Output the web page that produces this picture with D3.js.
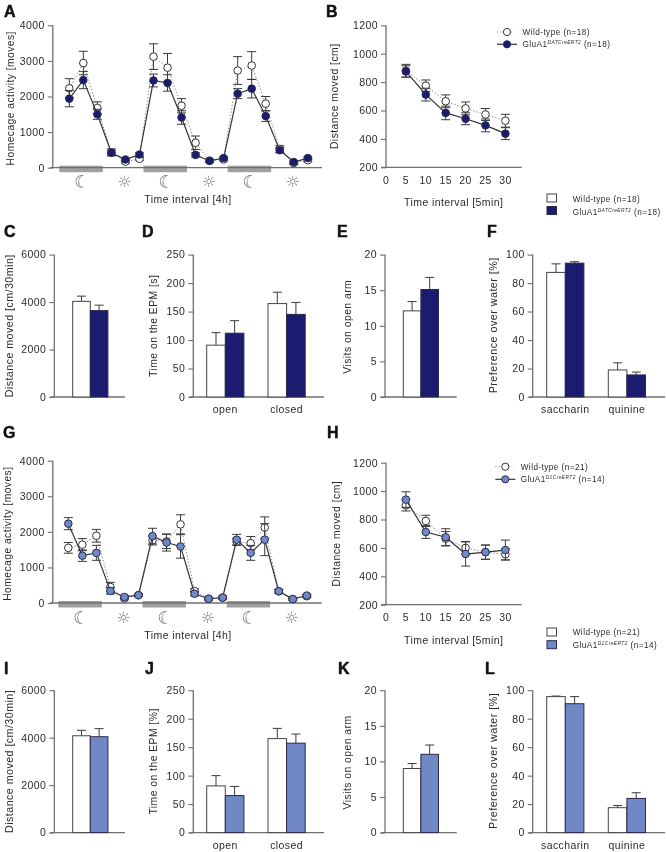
<!DOCTYPE html>
<html><head><meta charset="utf-8">
<script src="https://cdn.jsdelivr.net/npm/d3@7/dist/d3.min.js"></script>
<style>
html,body{margin:0;padding:0;background:#fff}
svg{display:block;filter:blur(0.35px)}
text{font-family:"Liberation Sans",Arial,sans-serif;fill:#2b2b2b}
</style></head><body><svg id="c" width="666" height="852"></svg>
<script>
// ---- Data ----
const intervals = d3.range(18);
const aWT  = [2230,2940,1680,430,170,250,3120,2810,1740,700,200,230,2730,2870,1800,530,130,210];
const aWTe = [270,330,170,100,40,40,360,400,200,190,40,40,390,390,200,90,40,40];
const aKO  = [1940,2460,1500,420,230,370,2450,2380,1410,360,190,270,2080,2220,1450,490,160,270];
const aKOe = [230,240,140,70,40,50,180,230,190,60,40,40,140,260,150,70,40,40];
const gWT  = [1550,1640,1890,450,130,220,1760,1730,2210,340,120,150,1720,1680,2120,330,110,190];
const gWTe = [150,170,180,130,40,40,130,200,270,60,40,40,100,190,300,50,30,40];
const gKO  = [2230,1330,1410,340,170,220,1880,1700,1590,260,120,150,1780,1410,1780,330,110,210];
const gKOe = [170,160,210,90,40,30,220,240,330,60,30,40,150,210,450,50,30,30];
const minutes = [5,10,15,20,25,30];
const minuteTicks = [0,5,10,15,20,25,30];
const bWT  = [880,775,665,615,572,528];
const bWTe = [45,40,45,45,42,45];
const bKO  = [875,712,583,542,495,437];
const bKOe = [40,45,48,42,45,42];
const hWT  = [900,790,665,600,570,555];
const hWTe = [40,40,50,45,50,40];
const hKO  = [940,712,675,557,570,585];
const hKOe = [55,45,60,85,50,70];
const cVals = [[4030],[3640]], cErrs = [[220],[230]];
const dVals = [[91,164],[112,145]], dErrs = [[22,20],[22,21]];
const eVals = [[12.1],[15.1]], eErrs = [[1.3],[1.7]];
const fVals = [[87.5,19],[94,15.5]], fErrs = [[6,5],[1,2]];
const iVals = [[4080],[4040]], iErrs = [[230],[340]];
const jVals = [[82,165],[65,157]], jErrs = [[18,18],[16,16]];
const kVals = [[9],[11]], kErrs = [[0.7],[1.3]];
const lVals = [[95.5,17.5],[90.5,24]], lErrs = [[0.4,1.5],[5,4]];
const epmGroups = ["open","closed"];
const tasteGroups = ["saccharin","quinine"];
const ticksActivity = [0,1000,2000,3000,4000];
const ticksDistance = [200,400,600,800,1000,1200];
const ticksOpenField = [0,2000,4000,6000];
const ticksEPM = [0,50,100,150,200,250];
const ticksVisits = [0,5,10,15,20];
const ticksPref = [0,20,40,60,80,100];
const wtLegendA = "Wild-type (n=18)", wtLegendG = "Wild-type (n=21)";
const koLegendA = ["GluA1","DATCreERT2"," (n=18)"], koLegendG = ["GluA1","D1CreERT2"," (n=14)"];

// ---- Style ----
const NAVY="#1b1b6f", BLUE="#7089c6", AXIS="#707070", BAND="#a0a0a0";
const svg=d3.select("#c");

function yAxis(x,y,ticks){
  const g=svg.append("g").attr("transform",`translate(${x},0)`)
    .call(d3.axisLeft(y).tickValues(ticks).tickSize(5).tickPadding(3).tickFormat(d3.format("d")));
  g.selectAll("path").remove();
  g.selectAll("line").attr("stroke",AXIS).attr("stroke-width",1.1);
  g.selectAll("text").attr("font-size",10.5).style("letter-spacing","0.4px").attr("fill","#2b2b2b");
  const r=y.range();
  svg.append("line").attr("x1",x).attr("x2",x).attr("y1",r[0]).attr("y2",r[1]).attr("stroke",AXIS).attr("stroke-width",1.3);
}
function baseLine(x0,x1,y){svg.append("line").attr("x1",x0).attr("x2",x1).attr("y1",y).attr("y2",y).attr("stroke",AXIS).attr("stroke-width",1.3);}
function yTitle(t,x,yc,size=10.4){
  svg.append("text").attr("transform",`translate(${x},${yc}) rotate(-90)`).attr("text-anchor","middle")
    .attr("font-size",size).style("letter-spacing","0.45px").text(t);
}
function label(t,x,y,size=10.3,anchor="middle"){
  return svg.append("text").attr("x",x).attr("y",y).attr("text-anchor",anchor).attr("font-size",size).style("letter-spacing","0.4px").text(t);
}
function letter(t,x,y){svg.append("text").attr("x",x).attr("y",y).attr("font-size",16).attr("font-weight","bold").style("fill","#111").attr("stroke","#111").attr("stroke-width",0.45).text(t);}

function series(xs,x,y,v,e,kind,fill){
  const line=d3.line().x((d,i)=>x(xs[i])).y(d=>y(d));
  svg.append("path").attr("d",line(v)).attr("fill","none")
    .attr("stroke",kind==="wt"?"#777":"#333").attr("stroke-width",kind==="wt"?0.9:1.2)
    .attr("stroke-dasharray",kind==="wt"?"1.3 2":null);
  const g=svg.append("g").attr("stroke","#3a3a3a").attr("stroke-width",1);
  v.forEach((d,i)=>{
    const X=x(xs[i]);
    g.append("line").attr("x1",X).attr("x2",X).attr("y1",y(d-e[i])).attr("y2",y(d+e[i]));
    [d-e[i],d+e[i]].forEach(b=>g.append("line").attr("x1",X-4.5).attr("x2",X+4.5).attr("y1",y(b)).attr("y2",y(b)));
  });
  svg.append("g").selectAll("circle").data(v).join("circle")
    .attr("cx",(d,i)=>x(xs[i])).attr("cy",d=>y(d)).attr("r",3.8)
    .attr("fill",fill).attr("stroke",kind==="wt"?"#333":"#2a2a55").attr("stroke-width",1);
}

function activityPanel(top,bottom,x0,xEnd,wt,wte,ko,koe,fill,titleX,iconY,xTitleY){
  const y=d3.scaleLinear().domain([0,4000]).range([bottom,top]);
  const x=d3.scaleLinear().domain([0,17]).range([x0,x0+17*14.03]);
  svg.append("g").selectAll("rect").data([0,6,12]).join("rect")
    .attr("x",d=>x(d)-10).attr("width",43.5).attr("y",bottom-2).attr("height",6.5).attr("fill",BAND);
  baseLine(50,xEnd,bottom);
  yAxis(52.8,y,ticksActivity);
  yTitle("Homecage activity [moves]",titleX,y(1950),10.3);
  series(intervals,x,y,wt,wte,"wt","#fff");
  series(intervals,x,y,ko,koe,"ko",fill);
  [0,6,12].forEach(i=>{
    svg.append("text").attr("x",x(i+1)-1).attr("y",iconY+6).attr("text-anchor","middle")
      .attr("font-size",18).style("font-family","DejaVu Sans").style("fill","#777").text("\u263E");
    svg.append("text").attr("x",x(i+4)-1).attr("y",iconY+5).attr("text-anchor","middle")
      .attr("font-size",15.5).style("font-family","DejaVu Sans").style("fill","#777").text("\u263C");
  });
  label("Time interval [4h]",188,xTitleY,10.5);
}

function distancePanel(top,bottom,wt,wte,ko,koe,fill,tickY,titleY,titleX){
  const y=d3.scaleLinear().domain([200,1200]).range([bottom,top]);
  const x=d3.scaleLinear().domain([0,30]).range([386,505.4]);
  baseLine(381,521.7,bottom);
  yAxis(386,y,ticksDistance);
  yTitle("Distance moved [cm]",titleX,y(700));
  minuteTicks.forEach(t=>label(t,x(t),tickY,10.5));
  series(minutes,x,y,wt,wte,"wt","#fff");
  series(minutes,x,y,ko,koe,"ko",fill);
  label("Time interval [5min]",453.7,titleY,10.5);
}

function barPanel(o){
  const y=d3.scaleLinear().domain([0,o.max]).range([o.bottom,o.top]);
  baseLine(o.ax-4,o.xEnd,o.bottom);
  yAxis(o.ax,y,o.ticks);
  yTitle(o.title,o.titleX,(o.top+o.bottom)/2+o.titleDy,o.titleSize||10.4);
  o.vals.forEach((vs,s)=>vs.forEach((v,g)=>{
    const X=o.starts[g]+s*o.w, cx=X+o.w/2;
    const e=o.errs[s][g];
    svg.append("line").attr("x1",cx).attr("x2",cx).attr("y1",y(v)).attr("y2",y(v+e)).attr("stroke","#3a3a3a");
    svg.append("line").attr("x1",cx-4.5).attr("x2",cx+4.5).attr("y1",y(v+e)).attr("y2",y(v+e)).attr("stroke","#3a3a3a");
    svg.append("rect").attr("x",X).attr("width",o.w).attr("y",y(v)).attr("height",o.bottom-y(v))
      .attr("fill",s?o.fill:"#fff").attr("stroke",s?"#2a2a4a":"#444").attr("stroke-width",1);
  }));
  if(o.groups) o.groups.forEach((t,g)=>label(t,o.starts[g]+o.w,o.bottom+16,10.5));
}

function lineLegend(cx,y1,y2,tx,wt,ko,fill){
  svg.append("line").attr("x1",cx-10).attr("x2",cx+7).attr("y1",y1).attr("y2",y1).attr("stroke","#888").attr("stroke-dasharray","1.3 2");
  svg.append("circle").attr("cx",cx).attr("cy",y1).attr("r",3.6).attr("fill","#fff").attr("stroke","#333");
  svg.append("line").attr("x1",cx-10).attr("x2",cx+10).attr("y1",y2).attr("y2",y2).attr("stroke","#333").attr("stroke-width",1.2);
  svg.append("circle").attr("cx",cx).attr("cy",y2).attr("r",3.6).attr("fill",fill).attr("stroke","#2a2a55");
  legendText(tx,y1,y2,wt,ko);
}
function legendText(tx,y1,y2,wt,ko){
  label(wt,tx,y1+3,8.2,"start").style("letter-spacing","0.45px");
  const t=label("",tx,y2+3,8.2,"start").style("letter-spacing","0.45px");
  t.append("tspan").text(ko[0]);
  t.append("tspan").attr("dy",-3).attr("font-size",4.8).attr("font-style","italic").text(ko[1]);
  t.append("tspan").attr("dy",3).text(ko[2]);
}
function barLegend(y1,y2,tx,ty1,ty2,wt,ko,fill){
  svg.append("rect").attr("x",547).attr("y",y1).attr("width",9.5).attr("height",8).attr("fill","#fff").attr("stroke","#444");
  svg.append("rect").attr("x",547).attr("y",y2).attr("width",9.5).attr("height",8).attr("fill",fill).attr("stroke","#2a2a4a");
  legendText(tx,ty1,ty2,wt,ko);
}

function row(top,bottom,c,d,e,f,fill,dTitle){
  const w1=17.6,w2=18.6;
  barPanel({top,bottom,max:6000,ticks:ticksOpenField,ax:54.3,xEnd:125,vals:c[0],errs:c[1],starts:[72.7],w:w1,fill,title:"Distance moved [cm/30min]",titleX:13,titleDy:0,titleSize:10.7});
  barPanel({top,bottom,max:250,ticks:ticksEPM,ax:193.3,xEnd:324,vals:d[0],errs:d[1],starts:[206.7,268],w:w2,fill,groups:epmGroups,title:dTitle,titleX:157,titleDy:0});
  barPanel({top,bottom,max:20,ticks:ticksVisits,ax:385,xEnd:456.7,vals:e[0],errs:e[1],starts:[403.3],w:w1,fill,title:"Visits on open arm",titleX:350.5,titleDy:1});
  barPanel({top,bottom,max:100,ticks:ticksPref,ax:532.7,xEnd:665,vals:f[0],errs:f[1],starts:[546.7,608.3],w:w2,fill,groups:tasteGroups,title:"Preference over water [%]",titleX:497,titleDy:-0.5,titleSize:10.8});
}

activityPanel(25.3,167.7,69.3,322,aWT,aWTe,aKO,aKOe,NAVY,14,181.5,203);
distancePanel(25.3,167.3,bWT,bWTe,bKO,bKOe,NAVY,183.5,206,338);
lineLegend(507,32,44.3,522.5,wtLegendA,koLegendA,NAVY);
barLegend(194,206.5,572.7,199,211.7,wtLegendA,koLegendA,NAVY);
row(254.6,397,[cVals,cErrs],[dVals,dErrs],[eVals,eErrs],[fVals,fErrs],NAVY,"Time on the EPM [s]");

activityPanel(460.7,603,68.3,321.7,gWT,gWTe,gKO,gKOe,BLUE,11,617.5,638.5);
distancePanel(462.7,604.7,hWT,hWTe,hKO,hKOe,BLUE,621,643.5,340);
lineLegend(505.3,466.7,479.3,520.7,wtLegendG,koLegendG,BLUE);
barLegend(628,640.7,572.7,632.3,645.3,wtLegendG,koLegendG,BLUE);
row(690.2,832.6,[iVals,iErrs],[jVals,jErrs],[kVals,kErrs],[lVals,lErrs],BLUE,"Time on the EPM [%]");

[["A",4,17],["B",326,17],["C",4,237],["D",142,237],["E",337,237],["F",487,237],
 ["G",3,438],["H",327,438],["I",4,674],["J",145,674],["K",338,674],["L",485,674]]
 .forEach(d=>letter(...d));
</script></body></html>
